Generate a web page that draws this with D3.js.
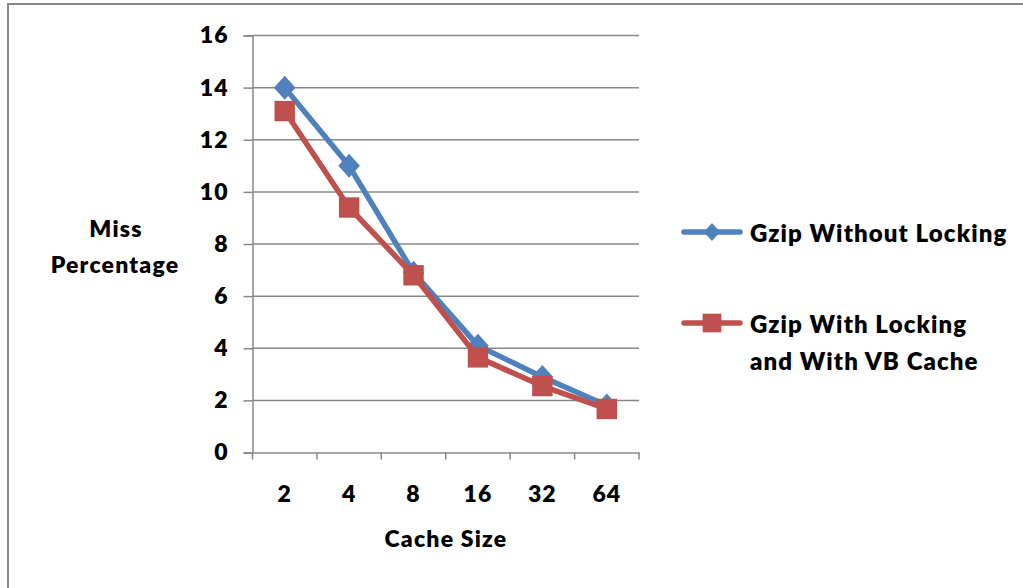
<!DOCTYPE html>
<html>
<head>
<meta charset="utf-8">
<script src="https://cdn.jsdelivr.net/npm/d3@7"></script>
<style>
  body { margin: 0; background: #fff; }
  svg { display: block; font-family: Lato, 'Open Sans', sans-serif; font-weight: 800; }
</style>
</head>
<body>
<svg id="chart" width="1023" height="588"></svg>
<script>
const categories = ['2', '4', '8', '16', '32', '64']
const withoutLocking = [14, 11, 6.9, 4.1, 2.9, 1.8]
const withLocking = [13.1, 9.4, 6.8, 3.65, 2.55, 1.67]
const yTicks = [0, 2, 4, 6, 8, 10, 12, 14, 16]

const series = [
  { name: ['Gzip Without Locking'], values: withoutLocking, color: '#4F81BD', marker: 'diamond' },
  { name: ['Gzip With Locking', 'and With VB Cache'], values: withLocking, color: '#C0504D', marker: 'square' }
]

const svg = d3.select('#chart')
const margin = { left: 252.5, right: 639, top: 35.5, bottom: 452.5 }

// outer chart border (right/bottom fall off the picture)
svg.append('rect')
  .attr('x', 8).attr('y', 4)
  .attr('width', 1030).attr('height', 600)
  .attr('fill', 'none').attr('stroke', '#888').attr('stroke-width', 2)

const x = d3.scaleBand().domain(categories).range([margin.left, margin.right])
const y = d3.scaleLinear().domain([0, 16]).range([margin.bottom, margin.top])

// gridlines
svg.append('g')
  .selectAll('line')
  .data(yTicks.filter(d => d > 0))
  .join('line')
  .attr('x1', margin.left).attr('x2', margin.right)
  .attr('y1', d => y(d)).attr('y2', d => y(d))
  .attr('stroke', '#888').attr('stroke-width', 1.5)

// y axis
const yAxis = svg.append('g')
  .attr('transform', `translate(${margin.left},0)`)
  .call(d3.axisLeft(y).tickValues(yTicks).tickSize(9).tickPadding(15))
yAxis.select('.domain').attr('stroke', '#888').attr('stroke-width', 1.5)
yAxis.selectAll('.tick line').attr('stroke', '#888').attr('stroke-width', 1.5)
yAxis.selectAll('.tick text')
  .attr('font-size', 23).attr('font-family', 'Lato, sans-serif').attr('font-weight', 800)
  .attr('letter-spacing', 1).attr('fill', '#000')

// x axis
const xAxis = svg.append('g')
  .attr('transform', `translate(0,${margin.bottom})`)
  .call(d3.axisBottom(x).tickSize(0).tickPadding(33))
xAxis.select('.domain').attr('stroke', '#888').attr('stroke-width', 1.5)
xAxis.selectAll('.tick text')
  .attr('font-size', 23).attr('font-family', 'Lato, sans-serif').attr('font-weight', 800)
  .attr('letter-spacing', 1).attr('fill', '#000')
svg.append('g')
  .selectAll('line')
  .data(d3.range(categories.length + 1))
  .join('line')
  .attr('x1', i => margin.left + i * x.step()).attr('x2', i => margin.left + i * x.step())
  .attr('y1', margin.bottom).attr('y2', margin.bottom + 7)
  .attr('stroke', '#888').attr('stroke-width', 1.5)

// axis titles
const title = (tx, ty, t) => svg.append('text')
  .attr('x', tx).attr('y', ty).attr('text-anchor', 'middle')
  .attr('font-size', 23).attr('letter-spacing', 1.2).text(t)
title(446, 547, 'Cache Size')
title(116, 237, 'Miss')
title(115, 273, 'Percentage')

const line = d3.line()
  .x((d, i) => x(categories[i]) + x.bandwidth() / 2)
  .y(d => y(d))

function drawMarker(g, type, color, size) {
  if (type === 'diamond') {
    g.append('path')
      .attr('d', `M0,${-size}L${size * 0.9},0L0,${size}L${-size * 0.9},0Z`)
      .attr('fill', color)
  } else {
    g.append('rect')
      .attr('x', -size * 0.85).attr('y', -size * 0.85)
      .attr('width', size * 1.7).attr('height', size * 1.7)
      .attr('fill', color)
  }
}

series.forEach(s => {
  svg.append('path')
    .datum(s.values)
    .attr('d', line)
    .attr('fill', 'none')
    .attr('stroke', s.color)
    .attr('stroke-width', 5.5)
    .attr('stroke-linejoin', 'round')

  s.values.forEach((v, i) => {
    const g = svg.append('g')
      .attr('transform', `translate(${x(categories[i]) + x.bandwidth() / 2},${y(v)})`)
    drawMarker(g, s.marker, s.color, 12)
  })
})

// legend
const legendY = [232, 323]
series.forEach((s, i) => {
  const g = svg.append('g').attr('transform', `translate(0,${legendY[i]})`)
  g.append('line')
    .attr('x1', 684).attr('x2', 740).attr('y1', 0).attr('y2', 0)
    .attr('stroke', s.color).attr('stroke-width', 5.5).attr('stroke-linecap', 'round')
  const m = g.append('g').attr('transform', 'translate(712,0)')
  drawMarker(m, s.marker, s.color, s.marker === 'diamond' ? 9 : 11)
  s.name.forEach((t, j) => {
    g.append('text')
      .attr('x', 750).attr('y', 10 + j * 37)
      .attr('font-size', 24).attr('letter-spacing', 1.1)
      .text(t)
  })
})
</script>
</body>
</html>
